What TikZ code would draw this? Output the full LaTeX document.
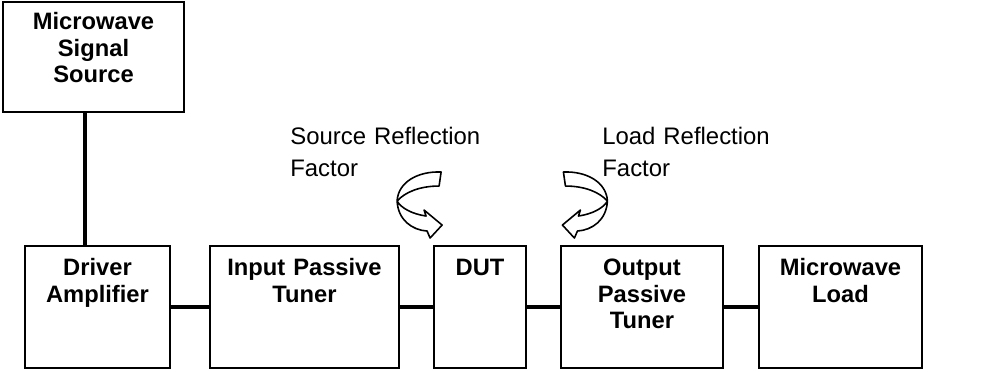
\documentclass[tikz,border=0pt]{standalone}
\usepackage{fontspec}
\setmainfont{Liberation Sans}

\tikzset{
  reflarrow/.pic={
    % twisted block arrow, drawn in pixel units
    \filldraw[fill=white, draw=black, line width=0.9pt, line join=round]
      (441,172) .. controls (418,171) and (398,182) .. (397,201)
      .. controls (398,220) and (412,230) .. (427,231)
      -- (430,238) -- (442,225) -- (424,210) -- (426,216)
      .. controls (412,214) and (401,208) .. (397,201)
      .. controls (405,192) and (420,186) .. (439,186) -- cycle;
  }
}

\begin{document}
\begin{tikzpicture}[
  block/.style={rectangle, draw, line width=1.1pt, inner sep=0pt, align=center,
    font=\fontsize{13.5}{15}\selectfont\bfseries, text height=0.6cm, text depth=1.84cm},
  link/.style={line width=2pt},
  note/.style={align=left, inner sep=0pt, anchor=base west, text width=5cm,
    font=\fontsize{13.6}{18.4}\selectfont}]

  \useasboundingbox (0,0) rectangle (20.04,7.42);

  % source on top
  \node[block, minimum width=3.62cm, text width=3.62cm, text height=0.56cm, text depth=1.64cm] (src) at (1.87,6.28) {Microwave\\Signal\\Source};

  % main chain
  \node[block, minimum width=2.9cm, text width=2.9cm]   (drv)  at (1.95,1.28)  {Driver\\Amplifier};
  \node[block, minimum width=3.78cm, text width=3.78cm] (ipt)  at (6.09,1.28)  {Input Passive\\Tuner};
  \node[block, minimum width=1.84cm, text width=1.84cm] (dut)  at (9.6,1.28)   {DUT};
  \node[block, minimum width=3.24cm, text width=3.24cm] (opt)  at (12.84,1.28) {Output\\Passive\\Tuner};
  \node[block, minimum width=3.26cm, text width=3.26cm] (load) at (16.81,1.28) {Microwave\\Load};

  % reflection labels
  \node[note] (srcrefl)  at (5.8,4.53)   {Source Reflection\\Factor};
  \node[note] (loadrefl) at (12.04,4.53) {Load Reflection\\Factor};

  % connections
  \draw[link] ([xshift=-0.25cm]drv.north) -- ([xshift=-0.25cm]drv.north |- src.south);
  \draw[link] (drv) -- (ipt);
  \draw[link] (ipt) -- (dut);
  \draw[link] (dut) -- (opt);
  \draw[link] (opt) -- (load);

  % curved arrows
  \pic[shift={(0cm,7.42cm)}, x=0.02cm, y=-0.02cm] {reflarrow};
  \pic[shift={(20.09cm,7.42cm)}, x=-0.02cm, y=-0.02cm] {reflarrow};

\end{tikzpicture}
\end{document}
